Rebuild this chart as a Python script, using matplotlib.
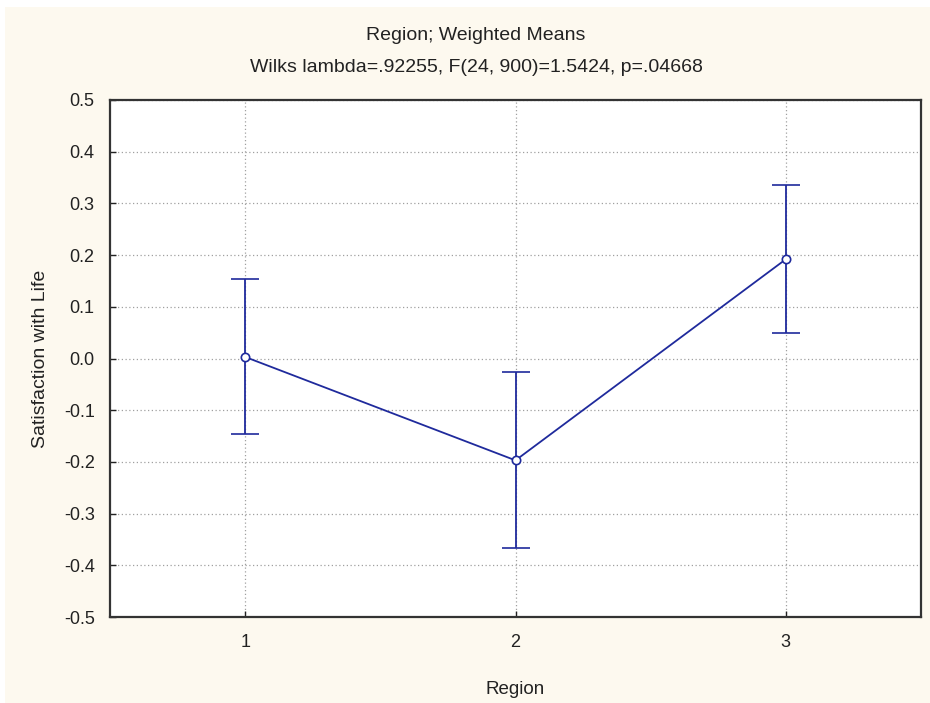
import matplotlib
matplotlib.use("Agg")
import matplotlib.pyplot as plt
from matplotlib.patches import Rectangle

# data
regions = [1, 2, 3]
means = [0.003, -0.197, 0.192]
errs = [0.150, 0.170, 0.143]
yticks = [0.5, 0.4, 0.3, 0.2, 0.1, 0.0, -0.1, -0.2, -0.3, -0.4, -0.5]

plt.rcParams["font.family"] = ["Liberation Sans", "DejaVu Sans"]

cream = "#fdf9ef"
navy = "#1f2a9c"
txt = "#222222"

fig = plt.figure(figsize=(9.3, 7.03), dpi=100)
fig.patch.set_facecolor("white")
# cream panel with thin white margin at top/left
fig.patches.append(Rectangle((5 / 930, 0), 1, 1 - 7 / 703, transform=fig.transFigure,
                             facecolor=cream, edgecolor="none", zorder=-10))

ax = fig.add_axes([110 / 930, (703 - 617) / 703, (921 - 110) / 930, (617 - 100) / 703])
ax.set_facecolor("white")

ax.errorbar(regions, means, yerr=errs, color=navy, lw=1.3, capsize=10, capthick=1.3,
            marker="o", ms=6, mfc="white", mec=navy, mew=1.2, zorder=3)

ax.set_xlim(0.5, 3.5)
ax.set_ylim(-0.5, 0.5)
ax.set_xticks(regions)
ax.set_yticks(yticks)
ax.set_yticklabels(["%.1f" % v for v in yticks])
ax.grid(True, color="#a0a0a0", linestyle=(0, (1, 2)), linewidth=0.9)
ax.tick_params(direction="in", length=4, width=1, labelsize=13, colors=txt, pad=11)
ax.tick_params(axis="x", pad=12)
for s in ax.spines.values():
    s.set_linewidth(1.6)
    s.set_color("#333333")

ax.set_xlabel("Region", fontsize=13.5, labelpad=22, color=txt)
ax.set_ylabel("Satisfaction with Life", fontsize=14, labelpad=11, color=txt)
fig.text(476 / 930, 1 - 35 / 703, "Region; Weighted Means", ha="center", va="center",
         fontsize=14, color=txt)
fig.text(476 / 930, 1 - 68 / 703, "Wilks lambda=.92255, F(24, 900)=1.5424, p=.04668",
         ha="center", va="center", fontsize=14, color=txt)

fig.savefig("out.png", dpi=100, facecolor=fig.get_facecolor())
